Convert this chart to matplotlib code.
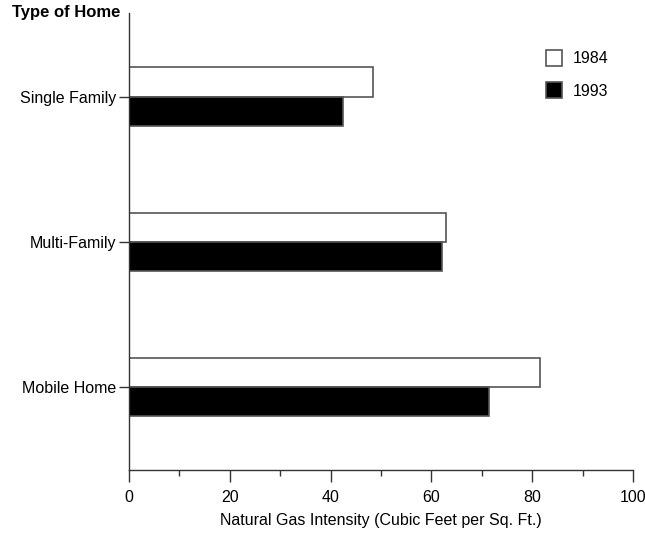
import numpy as np
import matplotlib.pyplot as plt
from matplotlib.ticker import MultipleLocator

plt.rcParams['font.family'] = ['Liberation Sans', 'DejaVu Sans']

homes = ['Single Family', 'Multi-Family', 'Mobile Home']
vals_1984 = [48.5, 62.9, 81.5]
vals_1993 = [42.5, 62.2, 71.4]

W, H = 645, 544
fig = plt.figure(figsize=(W / 100, H / 100), dpi=100)
ax = fig.add_axes([129 / W, 1 - 470 / H, (633 - 129) / W, (470 - 13) / H])

y = np.arange(len(homes))
h = 0.2
ax.barh(y - h / 2, vals_1984, height=h, color='white', edgecolor='#555555', linewidth=1.2, label='1984')
ax.barh(y + h / 2, vals_1993, height=h, color='black', edgecolor='#555555', linewidth=1.2, label='1993')

ax.set_xlim(0, 100)
ax.set_ylim(2.57, -0.575)
ax.set_yticks(y)
ax.set_yticklabels(homes, fontsize=11.5)
ax.xaxis.set_major_locator(MultipleLocator(20))
ax.xaxis.set_minor_locator(MultipleLocator(10))
ax.tick_params(axis='x', which='major', length=8.5, width=1, color='#333333', labelsize=11.5, pad=6)
ax.tick_params(axis='x', which='minor', length=4.3, width=1, color='#333333')
ax.tick_params(axis='y', length=7, width=1, color='#333333', pad=2)
for s in ['top', 'right']:
    ax.spines[s].set_visible(False)
for s in ['left', 'bottom']:
    ax.spines[s].set_color('#333333')
    ax.spines[s].set_linewidth(1)

ax.set_xlabel('Natural Gas Intensity (Cubic Feet per Sq. Ft.)', fontsize=11.5, labelpad=6)
fig.text(12 / W, 1 - 13 / H, 'Type of Home', fontsize=12, fontweight='bold', va='center', ha='left')

fs = 11.5 * 100 / 72
ax.legend(loc='upper left', bbox_to_anchor=(546 / W, 1 - 49.5 / H), bbox_transform=fig.transFigure,
          frameon=False, fontsize=11.5, borderpad=0, borderaxespad=0,
          handlelength=16 / fs, handleheight=19 / fs, labelspacing=16 / fs, handletextpad=11 / fs)

fig.savefig('out.png', dpi=100)
